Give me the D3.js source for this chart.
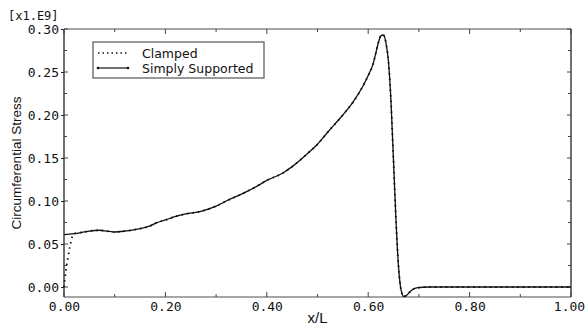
<html>
  <head>
    <meta charset="utf-8" />
    <script src="https://cdnjs.cloudflare.com/ajax/libs/d3/7.6.1/d3.min.js"></script>
    <style>
      body { margin: 0; background: #fff; }
      svg { display: block; }
      .tick text { font-family: "DejaVu Sans Mono", monospace; font-size: 13px; fill: #111; }
    </style>
  </head>
  <body>
    <svg width="585" height="326"></svg>
  </body>
  <script>
    // values, stress in units of 1e9
    const simplyX = [0, 0.02, 0.04, 0.05, 0.07, 0.085, 0.10, 0.12, 0.15, 0.17, 0.18, 0.20, 0.22, 0.24,
      0.27, 0.30, 0.32, 0.35, 0.38, 0.40, 0.43, 0.45, 0.48, 0.50, 0.52, 0.55, 0.57, 0.59, 0.60, 0.61,
      0.615, 0.62, 0.625, 0.63, 0.635, 0.64, 0.645, 0.65, 0.655, 0.66, 0.665, 0.67, 0.675, 0.685, 0.695,
      0.72, 0.80, 0.90, 1.00];
    const simplyY = [0.061, 0.062, 0.064, 0.065, 0.066, 0.065, 0.064, 0.065, 0.068, 0.071, 0.074, 0.078,
      0.082, 0.085, 0.088, 0.094, 0.100, 0.108, 0.117, 0.124, 0.132, 0.140, 0.155, 0.166, 0.180, 0.200,
      0.215, 0.234, 0.246, 0.260, 0.272, 0.284, 0.292, 0.293, 0.284, 0.262, 0.215, 0.145, 0.075, 0.022,
      -0.004, -0.011, -0.010, -0.004, -0.001, 0.000, 0.000, 0.000, 0.000];
    // clamped differs only near the left end
    const clampedX = [0, 0.004, 0.008, 0.012, 0.016, 0.02];
    const clampedY = [0, 0.02, 0.035, 0.048, 0.058, 0.062];

    const xTicks = [0, 0.2, 0.4, 0.6, 0.8, 1.0];
    const yTicks = [0, 0.05, 0.1, 0.15, 0.2, 0.25, 0.3];
    const legendNames = ["Clamped", "Simply Supported"];

    const simply = simplyX.map((x, i) => ({ x: x, y: simplyY[i] }));
    const clamped = clampedX.map((x, i) => ({ x: x, y: clampedY[i] }))
      .concat(simply.filter((d) => d.x > 0.02));

    const pl = 64, pr = 571, pt = 29, pb = 297;
    const svg = d3.select("svg");

    const xScale = d3.scaleLinear().domain([0, 1]).range([pl, pr]);
    const yScale = d3.scaleLinear().domain([-0.0116, 0.3]).range([pb, pt]);

    // frame: top/bottom gray, left/right dark
    svg.append("line").attr("x1", pl).attr("x2", pr).attr("y1", pt).attr("y2", pt)
      .attr("stroke", "#888").attr("stroke-width", 1.5);
    svg.append("line").attr("x1", pl).attr("x2", pr).attr("y1", pb).attr("y2", pb)
      .attr("stroke", "#888").attr("stroke-width", 1.5);
    svg.append("line").attr("x1", pl).attr("x2", pl).attr("y1", pt).attr("y2", pb)
      .attr("stroke", "#222").attr("stroke-width", 1.3);
    svg.append("line").attr("x1", pr).attr("x2", pr).attr("y1", pt).attr("y2", pb)
      .attr("stroke", "#222").attr("stroke-width", 1.3);

    const minorX = d3.range(0.1, 1.0, 0.2);
    const minorY = d3.range(0.025, 0.3, 0.05);

    // bottom axis labels
    const xAxis = d3.axisBottom(xScale).tickValues(xTicks).tickFormat(d3.format(".2f")).tickSize(0).tickPadding(5);
    svg.append("g").attr("transform", `translate(0,${pb})`).call(xAxis)
      .call((g) => g.select(".domain").remove())
      .call((g) => g.selectAll(".tick text").filter((d) => d === 1).attr("dx", -2));

    const yAxis = d3.axisLeft(yScale).tickValues(yTicks).tickFormat(d3.format(".2f")).tickSize(3).tickPadding(2);
    svg.append("g").attr("transform", `translate(${pl},0)`).call(yAxis)
      .call((g) => g.select(".domain").remove())
      .call((g) => g.selectAll(".tick line").attr("stroke", "#222"));

    // inward ticks on all four sides
    const tickG = svg.append("g").attr("stroke", "#444").attr("stroke-width", 1);
    xTicks.concat(minorX).forEach((v) => {
      const len = xTicks.includes(v) ? 5 : 3;
      tickG.append("line").attr("x1", xScale(v)).attr("x2", xScale(v)).attr("y1", pb).attr("y2", pb - len);
      tickG.append("line").attr("x1", xScale(v)).attr("x2", xScale(v)).attr("y1", pt).attr("y2", pt + len);
    });
    yTicks.concat(minorY).forEach((v) => {
      const len = yTicks.includes(v) ? 4 : 3;
      tickG.append("line").attr("x1", pl).attr("x2", pl + len).attr("y1", yScale(v)).attr("y2", yScale(v));
      tickG.append("line").attr("x1", pr).attr("x2", pr - len).attr("y1", yScale(v)).attr("y2", yScale(v));
    });

    const line = d3.line().x((d) => xScale(d.x)).y((d) => yScale(d.y)).curve(d3.curveMonotoneX);

    svg.append("path").attr("d", line(simply)).attr("fill", "none")
      .attr("stroke", "#111").attr("stroke-width", 1.3);
    svg.append("path").attr("d", line(clamped)).attr("fill", "none")
      .attr("stroke", "#111").attr("stroke-width", 1.8).attr("stroke-dasharray", "1.5,4");

    // texts
    svg.append("text").attr("x", 8).attr("y", 20).text("[x1.E9]")
      .style("font-family", "DejaVu Sans Mono, monospace").style("font-size", "12px").attr("fill", "#111");
    svg.append("text").attr("transform", `translate(21,${(pt + pb) / 2}) rotate(-90)`)
      .attr("text-anchor", "middle").text("Circumferential Stress")
      .style("font-family", "Liberation Sans, Arial, sans-serif").style("font-size", "13.5px").attr("fill", "#111");
    svg.append("text").attr("x", (pl + pr) / 2).attr("y", 323).attr("text-anchor", "middle").text("x/L")
      .style("font-family", "Liberation Sans, Arial, sans-serif").style("font-size", "15px").attr("fill", "#111");

    // legend
    const lg = svg.append("g");
    lg.append("rect").attr("x", 93).attr("y", 42).attr("width", 171).attr("height", 36)
      .attr("fill", "#fff").attr("stroke", "#555").attr("stroke-width", 1.2);
    legendNames.forEach((name, i) => {
      const yy = 53 + i * 15;
      lg.append("line").attr("x1", 98).attr("x2", 128).attr("y1", yy).attr("y2", yy)
        .attr("stroke", "#111").attr("stroke-width", i === 0 ? 1.6 : 1.2)
        .attr("stroke-dasharray", i === 0 ? "1.5,3" : null);
      if (i === 1) {
        [98, 128].forEach((cx) => lg.append("circle").attr("cx", cx).attr("cy", yy).attr("r", 1.3).attr("fill", "#111"));
      }
      lg.append("text").attr("x", 142).attr("y", yy + 4.5).text(name)
        .style("font-family", "DejaVu Sans, Verdana, sans-serif").style("font-size", "12.5px").attr("fill", "#111");
    });
  </script>
</html>
